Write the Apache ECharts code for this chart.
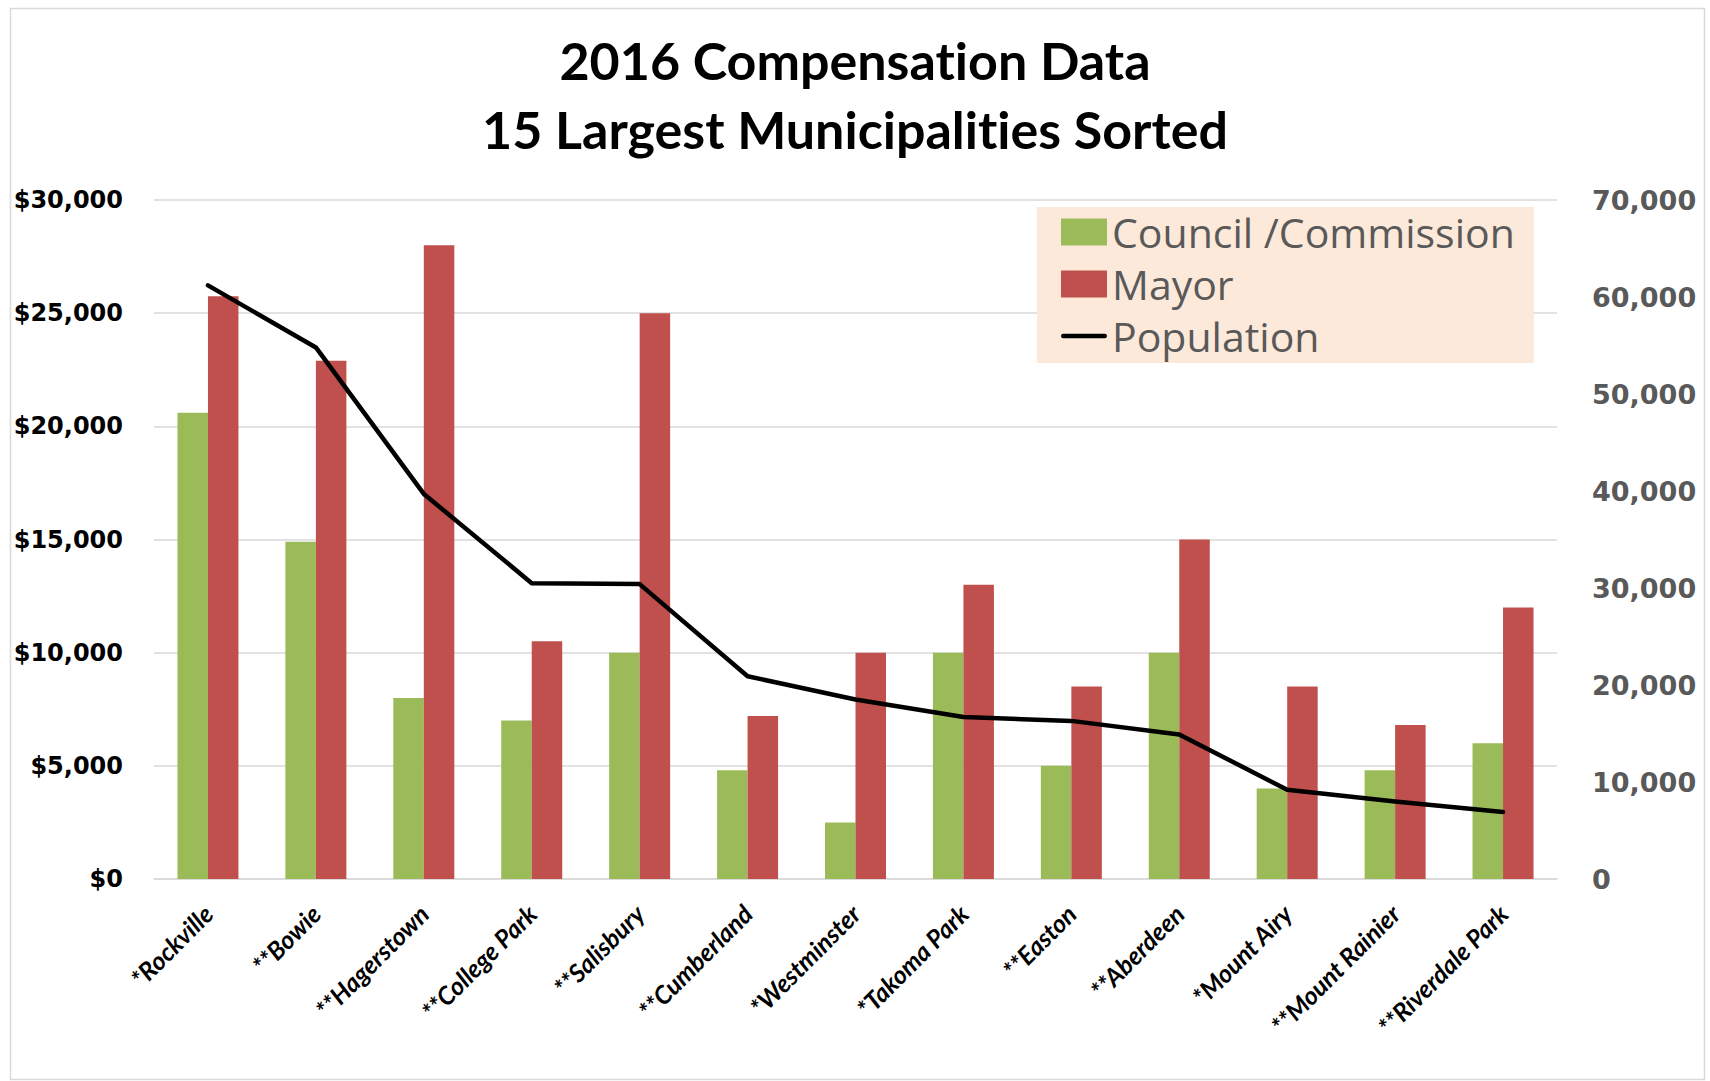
<!DOCTYPE html>
<html>
<head>
<meta charset="utf-8">
<title>2016 Compensation Data</title>
<script src="https://cdn.jsdelivr.net/npm/echarts@6/dist/echarts.min.js"></script>
<style>
  html, body { margin: 0; padding: 0; background: #fff; }
  #chart { width: 1710px; height: 1081px; }
  #chart text { font-variant-ligatures: none; font-feature-settings: "liga" 0, "dlig" 0; }
</style>
</head>
<body>
<div id="chart"></div>
<script>
// Municipalities, sorted by population (largest first)
const municipalities = [
  '*Rockville', '**Bowie', '**Hagerstown', '**College Park', '**Salisbury',
  '**Cumberland', '*Westminster', '*Takoma Park', '**Easton', '**Aberdeen',
  '*Mount Airy', '**Mount Rainier', '**Riverdale Park'
];

// Annual compensation, USD
const councilPay = [20600, 14900, 8000, 7000, 10000, 4800, 2500, 10000, 5000, 10000, 4000, 4800, 6000];
const mayorPay   = [25750, 22900, 28000, 10500, 25000, 7200, 10000, 13000, 8500, 15000, 8500, 6800, 12000];

// Resident population
const population = [61200, 54800, 39700, 30500, 30400, 20900, 18500, 16700, 16300, 14900, 9200, 8000, 6900];

// Axis ranges
const payAxis = { min: 0, max: 30000, interval: 5000 };
const popAxis = { min: 0, max: 70000, interval: 10000 };

const fmt = v => v.toString().replace(/\B(?=(\d{3})+(?!\d))/g, ',');

// Thick line swatch for the population entry (extra move-to points pin the icon box)
const lineIcon = 'path://M0,0 M48,27 M2,11 L46,11 A2.5,2.5 0 0 1 46,16 L2,16 A2.5,2.5 0 0 1 2,11 Z';

const chart = echarts.init(document.getElementById('chart'), null, { renderer: 'svg' });

chart.setOption({
  backgroundColor: '#ffffff',
  animation: false,
  title: {
    text: '2016 Compensation Data\n15 Largest Municipalities Sorted',
    left: 'center',
    top: 20,
    textStyle: {
      fontFamily: 'Lato',
      fontWeight: 'bold',
      fontSize: 52,
      lineHeight: 69,
      color: '#000000'
    }
  },
  graphic: [{
    type: 'rect',
    left: 8, top: 6,
    shape: { width: 1694, height: 1071 },
    style: { fill: 'none', stroke: '#D9D9D9', lineWidth: 1.5 },
    silent: true
  }],
  legend: {
    orient: 'vertical',
    left: 1037,
    top: 207,
    padding: [4, 19, 6, 24],
    backgroundColor: '#FDE9D9',
    itemWidth: 46,
    itemHeight: 27,
    itemGap: 10,
    textStyle: { fontFamily: 'Open Sans', fontSize: 41, lineHeight: 42, color: '#595959' },
    data: [
      { name: 'Council /Commission', icon: 'rect' },
      { name: 'Mayor', icon: 'rect' },
      { name: 'Population', icon: lineIcon, itemStyle: { color: '#000000', borderWidth: 0 } }
    ]
  },
  grid: { left: 154, right: 153, top: 200, bottom: 202, containLabel: false },
  xAxis: {
    type: 'category',
    data: municipalities,
    axisLine: { show: true, lineStyle: { color: '#D9D9D9', width: 1.5 } },
    axisTick: { show: false },
    axisLabel: {
      interval: 0,
      rotate: 45,
      margin: 30,
      fontFamily: 'Lato',
      fontStyle: 'italic',
      fontWeight: 'bold',
      fontSize: 25,
      color: '#000000'
    }
  },
  yAxis: [
    {
      type: 'value',
      min: payAxis.min, max: payAxis.max, interval: payAxis.interval,
      axisLine: { show: false },
      axisTick: { show: false },
      splitLine: { show: true, lineStyle: { color: '#D9D9D9', width: 1.5 } },
      axisLabel: {
        margin: 31,
        formatter: v => '$' + fmt(v),
        fontFamily: 'DejaVu Sans',
        fontWeight: 'bold',
        fontSize: 24,
        color: '#000000'
      }
    },
    {
      type: 'value',
      position: 'right',
      min: popAxis.min, max: popAxis.max, interval: popAxis.interval,
      axisLine: { show: false },
      axisTick: { show: false },
      splitLine: { show: false },
      axisLabel: {
        margin: 35,
        formatter: v => fmt(v),
        fontFamily: 'DejaVu Sans',
        fontWeight: 'bold',
        fontSize: 27,
        color: '#595959'
      }
    }
  ],
  series: [
    {
      name: 'Council /Commission',
      type: 'bar',
      yAxisIndex: 0,
      data: councilPay,
      barWidth: 30.5,
      barGap: '0%',
      itemStyle: { color: '#9BBB59' }
    },
    {
      name: 'Mayor',
      type: 'bar',
      yAxisIndex: 0,
      data: mayorPay,
      barWidth: 30.5,
      barGap: '0%',
      itemStyle: { color: '#C0504D' }
    },
    {
      name: 'Population',
      type: 'line',
      yAxisIndex: 1,
      data: population,
      symbol: 'none',
      itemStyle: { color: '#000000' },
      lineStyle: { color: '#000000', width: 4.5, cap: 'round', join: 'round' },
      z: 5
    }
  ]
});
</script>
</body>
</html>
